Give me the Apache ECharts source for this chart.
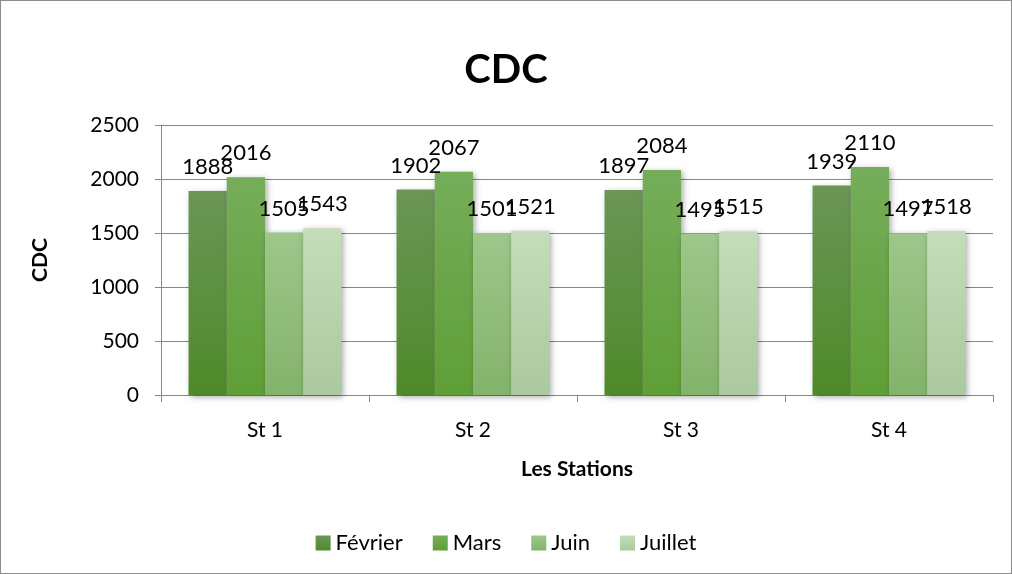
<!DOCTYPE html>
<html>
<head>
<meta charset="utf-8">
<script src="https://cdn.jsdelivr.net/npm/echarts@6/dist/echarts.min.js"></script>
<style>
  html, body { margin: 0; padding: 0; background: #fff; }
  #chart { width: 1010px; height: 572px; border: 1px solid #8c8c8c; }
</style>
</head>
<body>
<div id="chart"></div>
<script>
const stations = ["St 1", "St 2", "St 3", "St 4"];
const fevrier = [1888, 1902, 1897, 1939];
const mars = [2016, 2067, 2084, 2110];
const juin = [1505, 1501, 1495, 1497];
const juillet = [1543, 1521, 1515, 1518];

const chart = echarts.init(document.getElementById("chart"), null, { renderer: "canvas" });

const font = "Lato, 'Open Sans', sans-serif";

function grad(top, bottom) {
  return new echarts.graphic.LinearGradient(0, 0, 0, 1, [
    { offset: 0, color: top },
    { offset: 1, color: bottom },
  ]);
}

function makeSeries(name, data, top, bottom) {
  return {
    name: name,
    type: "bar",
    data: data,
    barGap: "0%",
    barCategoryGap: "26.5%",
    itemStyle: {
      color: grad(top, bottom),
      shadowColor: "rgba(0,0,0,0.35)",
      shadowBlur: 6,
      shadowOffsetX: 2,
      shadowOffsetY: 2,
    },
    label: {
      show: true,
      position: "top",
      distance: 13,
      color: "#000",
      fontSize: 22,
      fontFamily: font,
    },
  };
}

chart.setOption({
  animation: false,
  title: {
    text: "CDC",
    left: "center",
    top: 44,
    textStyle: { fontSize: 40, fontWeight: "bold", color: "#000", fontFamily: font },
  },
  legend: {
    bottom: 14,
    left: "center",
    itemWidth: 15,
    itemHeight: 15,
    itemGap: 30,
    icon: "rect",
    textStyle: { fontSize: 22, color: "#000", fontFamily: font },
    data: ["Février", "Mars", "Juin", "Juillet"],
  },
  grid: { left: 160, right: 18, top: 124, bottom: 178 },
  xAxis: {
    type: "category",
    data: stations,
    name: "Les Stations",
    nameLocation: "middle",
    nameGap: 64,
    nameTextStyle: { fontSize: 21, fontWeight: "bold", color: "#000", fontFamily: font },
    axisLine: { lineStyle: { color: "#868686" } },
    axisTick: { show: true, length: 7, lineStyle: { color: "#868686" } },
    axisLabel: { fontSize: 21, color: "#000", fontFamily: font, margin: 25 },
  },
  yAxis: {
    type: "value",
    min: 0,
    max: 2500,
    interval: 500,
    name: "CDC",
    nameLocation: "middle",
    nameRotate: 90,
    nameGap: 110,
    nameTextStyle: { fontSize: 21, fontWeight: "bold", color: "#000", fontFamily: font },
    axisLine: { show: true, lineStyle: { color: "#868686" } },
    axisTick: { show: true, length: 6, lineStyle: { color: "#868686" } },
    axisLabel: { fontSize: 21, color: "#000", fontFamily: font, margin: 22, formatter: (v) => String(v) },
    splitLine: { lineStyle: { color: "#868686" } },
  },
  series: [
    makeSeries("Février", fevrier, "#6b9656", "#4e8a29"),
    makeSeries("Mars", mars, "#75ad5a", "#5f9f36"),
    makeSeries("Juin", juin, "#9dc78b", "#84b36b"),
    makeSeries("Juillet", juillet, "#c5ddba", "#acc89f"),
  ],
});
</script>
</body>
</html>
